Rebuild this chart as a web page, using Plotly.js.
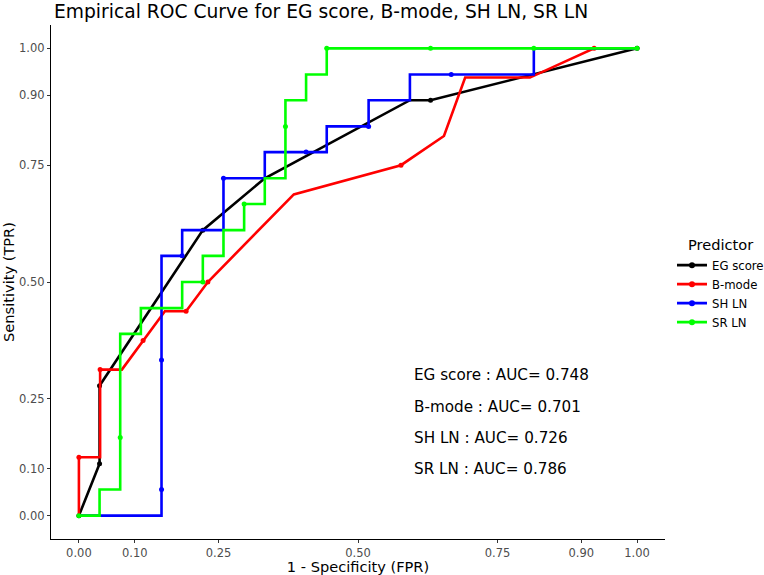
<!DOCTYPE html>
<html>
<head>
<meta charset="utf-8">
<script src="https://cdn.plot.ly/plotly-3.0.1.min.js"></script>
<style>html,body{margin:0;padding:0;background:#fff;}#chart{width:764px;height:575px;}</style>
</head>
<body>
<div id="chart"></div>
<script>
// ---- data ----
const seriesNames = ["EG score", "B-mode", "SH LN", "SR LN"];
const seriesColors = ["#000000", "#FF0000", "#0000FF", "#00FF00"];
const legendTitle = "Predictor";

const egFpr = [0, 0.037, 0.037, 0.222, 0.333, 0.593, 0.630, 1];
const egTpr = [0, 0.111, 0.278, 0.611, 0.722, 0.889, 0.889, 1];
const egDotFpr = [0, 0.037, 0.037, 0.222, 0.630, 1];
const egDotTpr = [0, 0.111, 0.278, 0.611, 0.889, 1];

const bmFpr = [0, 0, 0.038, 0.038, 0.077, 0.115, 0.154, 0.192, 0.231, 0.385, 0.577, 0.654, 0.692, 0.808, 0.923, 1];
const bmTpr = [0, 0.125, 0.125, 0.3125, 0.3125, 0.375, 0.4375, 0.4375, 0.5, 0.6875, 0.75, 0.8125, 0.9375, 0.9375, 1, 1];
const bmDotFpr = [0, 0.038, 0.115, 0.192, 0.231, 0.577, 0.923];
const bmDotTpr = [0.125, 0.3125, 0.375, 0.4375, 0.5, 0.75, 1];

const shFpr = [0, 0.148, 0.148, 0.185, 0.185, 0.259, 0.259, 0.333, 0.333, 0.444, 0.444, 0.519, 0.519, 0.593, 0.593, 0.815, 0.815, 1];
const shTpr = [0, 0, 0.556, 0.556, 0.611, 0.611, 0.722, 0.722, 0.778, 0.778, 0.833, 0.833, 0.889, 0.889, 0.944, 0.944, 1, 1];
const shDotFpr = [0.148, 0.148, 0.185, 0.259, 0.407, 0.519, 0.667];
const shDotTpr = [0.056, 0.333, 0.556, 0.722, 0.778, 0.833, 0.944];

const srFpr = [0, 0.037, 0.037, 0.074, 0.074, 0.111, 0.111, 0.185, 0.185, 0.222, 0.222, 0.259, 0.259, 0.296, 0.296, 0.333, 0.333, 0.370, 0.370, 0.407, 0.407, 0.444, 0.444, 1];
const srTpr = [0, 0, 0.056, 0.056, 0.389, 0.389, 0.444, 0.444, 0.5, 0.5, 0.556, 0.556, 0.611, 0.611, 0.667, 0.667, 0.722, 0.722, 0.889, 0.889, 0.944, 0.944, 1, 1];
const srDotFpr = [0, 0.074, 0.222, 0.296, 0.370, 0.444, 0.630, 0.815, 1];
const srDotTpr = [0, 0.167, 0.5, 0.667, 0.833, 1, 1, 1, 1];

const aucLabels = ["EG score : AUC= 0.748", "B-mode : AUC= 0.701", "SH LN : AUC= 0.726", "SR LN : AUC= 0.786"];
const aucY = [0.30, 0.233, 0.167, 0.10];
const aucX = 0.6;

const tickVals = [0, 0.10, 0.25, 0.50, 0.75, 0.90, 1.00];
const tickText = ["0.00", "0.10", "0.25", "0.50", "0.75", "0.90", "1.00"];

// ---- build traces ----
const lineX = [egFpr, bmFpr, shFpr, srFpr];
const lineY = [egTpr, bmTpr, shTpr, srTpr];
const dotX = [egDotFpr, bmDotFpr, shDotFpr, srDotFpr];
const dotY = [egDotTpr, bmDotTpr, shDotTpr, srDotTpr];

const FONT = "DejaVu Sans, sans-serif";
const traces = [];
for (let i = 0; i < seriesNames.length; i++) {
  traces.push({
    x: lineX[i], y: lineY[i], type: "scatter", mode: "lines",
    line: {color: seriesColors[i], width: 2.6},
    showlegend: false, hoverinfo: "skip", cliponaxis: false
  });
  traces.push({
    x: dotX[i], y: dotY[i], type: "scatter", mode: "markers",
    marker: {color: seriesColors[i], size: 5},
    showlegend: false, hoverinfo: "skip", cliponaxis: false
  });
}
for (let i = 0; i < seriesNames.length; i++) {
  traces.push({
    x: [null], y: [null], type: "scatter", mode: "lines+markers",
    name: seriesNames[i],
    line: {color: seriesColors[i], width: 2.6},
    marker: {color: seriesColors[i], size: 6},
    showlegend: true
  });
}

const annotations = aucLabels.map((t, i) => ({
  x: aucX, y: aucY[i], xref: "x", yref: "y", text: t, showarrow: false,
  xanchor: "left", yanchor: "middle", xshift: -2,
  font: {family: FONT, size: 15.2, color: "#000000"}
}));
annotations.push({
  x: 1.0, y: 1 - 246 / 575, xref: "x domain", yref: "paper", text: legendTitle, showarrow: false,
  xanchor: "left", yanchor: "middle", xshift: 21,
  font: {family: FONT, size: 14.6, color: "#000000"}
});

const axisCommon = {
  tickmode: "array", tickvals: tickVals, ticktext: tickText,
  ticks: "outside", ticklen: 3, tickwidth: 1, tickcolor: "#333333",
  tickfont: {family: FONT, size: 11.5, color: "#4D4D4D"},
  showgrid: false, zeroline: false,
  showline: true, linecolor: "#000000", linewidth: 1.1,
  range: [-0.05, 1.05], fixedrange: true, automargin: false
};

const layout = {
  width: 764, height: 575,
  paper_bgcolor: "#FFFFFF", plot_bgcolor: "#FFFFFF",
  margin: {l: 51, r: 99, t: 25, b: 36, pad: 0, autoexpand: false},
  font: {family: FONT},
  title: {
    text: "Empirical ROC Curve for EG score, B-mode, SH LN, SR LN",
    font: {family: FONT, size: 18.7, color: "#000000"},
    xref: "container", yref: "container", x: 54 / 764, xanchor: "left",
    y: 1 - 11 / 575, yanchor: "middle"
  },
  xaxis: Object.assign({}, axisCommon, {
    title: {text: "1 - Specificity (FPR)", font: {family: FONT, size: 14.6, color: "#000000"}, standoff: 2}
  }),
  yaxis: Object.assign({}, axisCommon, {
    title: {text: "Sensitivity (TPR)", font: {family: FONT, size: 14.6, color: "#000000"}, standoff: 4}
  }),
  legend: {
    x: 1.0114, y: 0.561, xanchor: "left", yanchor: "top",
    font: {family: FONT, size: 11.7, color: "#000000"},
    itemwidth: 30, tracegroupgap: 0, bgcolor: "rgba(0,0,0,0)"
  },
  annotations: annotations,
  showlegend: true
};

Plotly.newPlot("chart", traces, layout, {staticPlot: true, displayModeBar: false});
</script>
</body>
</html>
